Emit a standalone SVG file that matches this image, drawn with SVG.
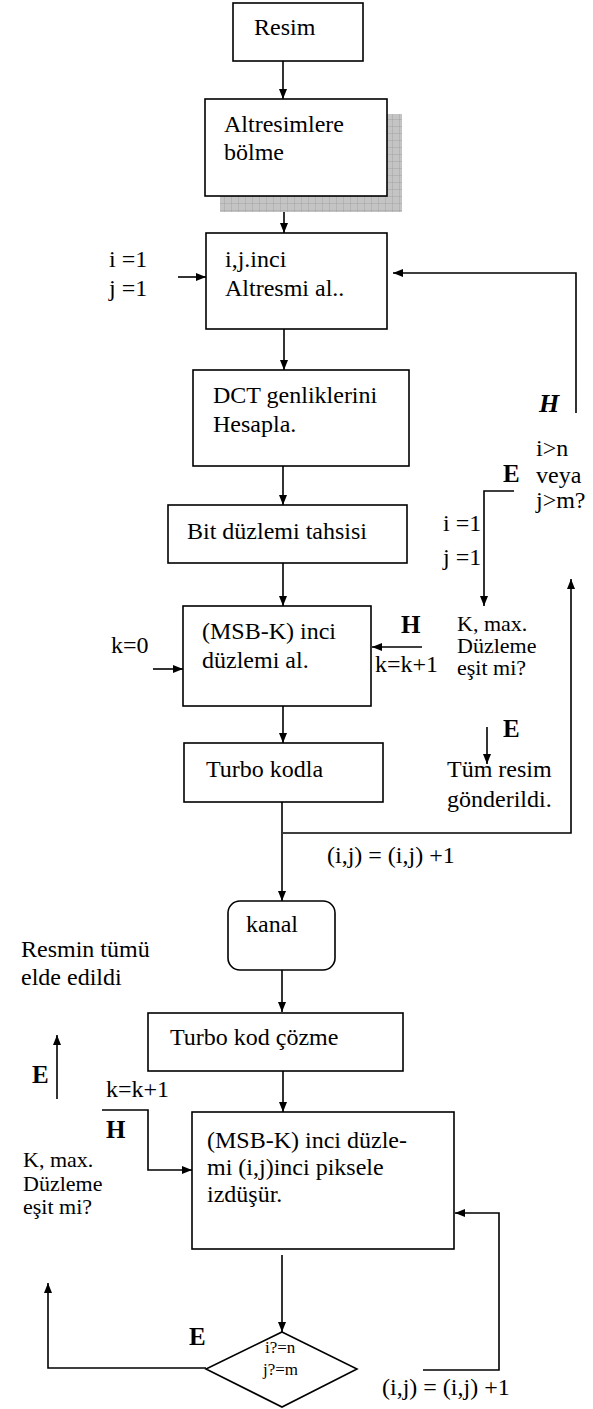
<svg xmlns="http://www.w3.org/2000/svg" width="593" height="1409" viewBox="0 0 593 1409" font-family="'Liberation Serif', 'DejaVu Serif', serif">
<defs>
<style>
.box{fill:#fff;stroke:#000;stroke-width:1.6}
.ln{fill:none;stroke:#000;stroke-width:1.6}
.arr{fill:none;stroke:#000;stroke-width:1.6;marker-end:url(#ah)}
text{font-family:'Liberation Serif','DejaVu Serif',serif;font-size:24px;fill:#000}
.b{font-weight:bold;font-size:25px}
.bi{font-weight:bold;font-style:italic;font-size:26px}
.sm{font-size:17px}
.q{font-size:22px}
</style>
<marker id="ah" viewBox="0 0 10 10" refX="10" refY="5" markerWidth="10" markerHeight="10" markerUnits="userSpaceOnUse" orient="auto">
<path d="M0,1 L10,5 L0,9 Z" fill="#000"/>
</marker>
<pattern id="grid" width="7" height="7" patternUnits="userSpaceOnUse">
<rect width="7" height="7" fill="#c4c4c4"/>
<path d="M0,0 H7 M0,0 V7" stroke="#9a9a9a" stroke-width="0.8"/>
</pattern>
</defs>

<g id="connectors">
<line class="arr" x1="283" y1="61" x2="283" y2="99"/>
<line class="arr" x1="284" y1="196" x2="284" y2="233"/>
<line class="arr" x1="178" y1="277" x2="206" y2="277"/>
<polyline class="arr" points="576,413 576,273 393,273"/>
<line class="arr" x1="284" y1="329" x2="284" y2="370"/>
<line class="arr" x1="283" y1="466" x2="283" y2="505"/>
<line class="arr" x1="283" y1="563" x2="283" y2="606"/>
<polyline class="arr" points="514,491 484,491 484,606"/>
<line class="arr" x1="153" y1="669" x2="183" y2="669"/>
<line class="arr" x1="422" y1="647" x2="372" y2="647"/>
<line class="arr" x1="487" y1="727" x2="487" y2="764"/>
<line class="arr" x1="283" y1="706" x2="283" y2="743"/>
<polyline class="arr" points="283,833 571,833 571,579"/>
<line class="arr" x1="282" y1="802" x2="282" y2="901"/>
<line class="arr" x1="282" y1="970" x2="282" y2="1012"/>
<line class="arr" x1="57" y1="1099" x2="57" y2="1035"/>
<polyline class="arr" points="102,1110 148,1110 148,1170 192,1170"/>
<line class="arr" x1="283" y1="1071" x2="283" y2="1112"/>
<polyline class="arr" points="423,1370 499,1370 499,1213 455,1213"/>
<line class="arr" x1="282" y1="1255" x2="282" y2="1332"/>
<polyline class="arr" points="206,1368 48,1368 48,1283"/>
</g>

<g id="resim">
<rect class="box" x="233" y="3" width="130" height="58"/>
<text x="254" y="35">Resim</text>
</g>

<g id="altresimlere">
<rect x="220" y="114" width="182" height="98" fill="url(#grid)"/>
<rect class="box" x="205" y="99" width="182" height="97"/>
<text x="224" y="132">Altresimlere</text>
<text x="224" y="160">bölme</text>
</g>

<g id="init-ij">
<text x="109" y="267">i =1</text>
<text x="109" y="296">j =1</text>
</g>

<g id="altresmi-al">
<rect class="box" x="206" y="233" width="181" height="96"/>
<text x="225" y="267">i,j.inci</text>
<text x="225" y="296">Altresmi al..</text>
</g>

<g id="dct">
<rect class="box" x="193" y="370" width="216" height="96"/>
<text x="213" y="403">DCT genliklerini</text>
<text x="213" y="432">Hesapla.</text>
</g>

<g id="bit-duzlemi">
<rect class="box" x="168" y="505" width="239" height="58"/>
<text x="187" y="539">Bit düzlemi tahsisi</text>
</g>

<g id="msb-al">
<rect class="box" x="183" y="606" width="188" height="100"/>
<text x="202" y="639">(MSB-K) inci</text>
<text x="202" y="668">düzlemi al.</text>
</g>

<g id="k0">
<text x="111" y="653">k=0</text>
</g>

<g id="k-loop-label">
<text class="b" x="401" y="633">H</text>
<text x="375" y="672">k=k+1</text>
</g>

<g id="ij-decision">
<text class="bi" x="539" y="412">H</text>
<text x="536" y="456">i&gt;n</text>
<text x="536" y="483">veya</text>
<text x="536" y="508">j&gt;m?</text>
<text class="b" x="503" y="482">E</text>
<text x="443" y="531">i =1</text>
<text x="443" y="565">j =1</text>
</g>

<g id="k-decision">
<text class="q" x="457" y="631">K, max.</text>
<text class="q" x="457" y="653">Düzleme</text>
<text class="q" x="457" y="675">eşit mi?</text>
<text class="b" x="503" y="737">E</text>
</g>

<g id="tum-resim">
<text x="447" y="777">Tüm resim</text>
<text x="447" y="807">gönderildi.</text>
</g>

<g id="turbo-kodla">
<rect class="box" x="184" y="743" width="199" height="59"/>
<text x="206" y="777">Turbo kodla</text>
</g>

<g id="ij-inc-1">
<text x="327" y="863">(i,j) = (i,j) +1</text>
</g>

<g id="kanal">
<rect class="box" x="228" y="901" width="107" height="69" rx="12" ry="12"/>
<text x="246" y="932">kanal</text>
</g>

<g id="resmin-tumu">
<text x="21" y="957">Resmin tümü</text>
<text x="21" y="985">elde edildi</text>
</g>

<g id="turbo-cozme">
<rect class="box" x="148" y="1013" width="255" height="58"/>
<text x="170" y="1045">Turbo kod çözme</text>
</g>

<g id="k-decision-2">
<text class="b" x="32" y="1083">E</text>
<text x="106" y="1097">k=k+1</text>
<text class="b" x="106" y="1138">H</text>
<text class="q" x="23" y="1167">K, max.</text>
<text class="q" x="23" y="1191">Düzleme</text>
<text class="q" x="23" y="1214">eşit mi?</text>
</g>

<g id="msb-izdusur">
<rect class="box" x="192" y="1112" width="262" height="137"/>
<text x="207" y="1148">(MSB-K) inci düzle-</text>
<text x="207" y="1175">mi (i,j)inci piksele</text>
<text x="207" y="1202">izdüşür.</text>
</g>

<g id="diamond">
<polygon class="box" points="282,1332 357,1369 282,1407 206,1369"/>
<text class="sm" x="265" y="1353">i?=n</text>
<text class="sm" x="263" y="1375">j?=m</text>
<text class="b" x="189" y="1345">E</text>
</g>

<g id="ij-inc-2">
<text x="382" y="1395">(i,j) = (i,j) +1</text>
</g>
</svg>
